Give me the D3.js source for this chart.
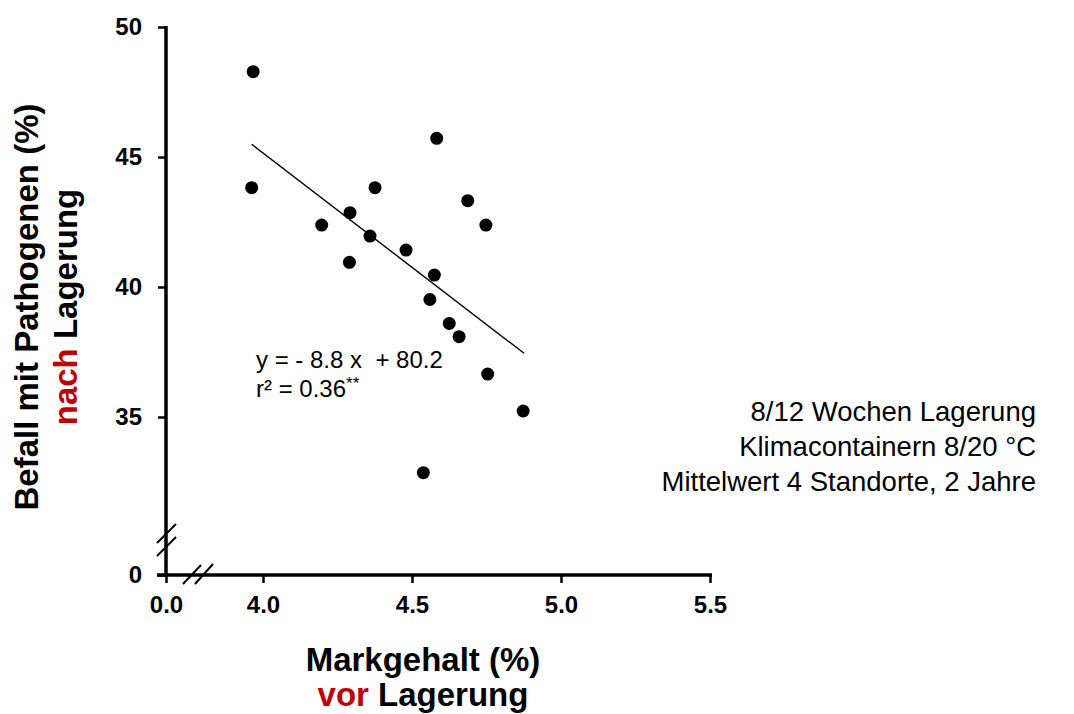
<!DOCTYPE html>
<html>
<head>
<meta charset="utf-8">
<script src="https://cdn.jsdelivr.net/npm/d3@7"></script>
<style>
  body { margin: 0; background: #fff; }
  svg { display: block; font-family: "Liberation Sans", Arial, sans-serif; }
</style>
</head>
<body>
<svg id="chart" width="1074" height="714"></svg>
<script>
'use strict';

// Markgehalt vor Lagerung (%) / Befall nach Lagerung (%)
var markgehalt = [3.967, 3.962, 4.583, 4.376, 4.687, 4.748, 4.197, 4.292, 4.359,
  4.290, 4.480, 4.575, 4.560, 4.625, 4.658, 4.754, 4.873, 4.538];
var befall = [48.28, 43.82, 45.72, 43.82, 43.32, 42.38, 42.38, 42.86, 41.96,
  40.95, 41.42, 40.46, 39.52, 38.60, 38.09, 36.65, 35.23, 32.86];

// regression line ends as drawn
var fitX = [3.962, 4.876];
var fitY = [45.49, 37.45];

var xTicks = [4.0, 4.5, 5.0, 5.5];
var xTicksLow = [0.0];
var yTicks = [35, 40, 45, 50];
var yTicksLow = [0];

var notes = ['8/12 Wochen Lagerung', 'Klimacontainern 8/20 °C', 'Mittelwert 4 Standorte, 2 Jahre'];

var svg = d3.select('#chart');

// broken axes: upper part + the zero part
var x = d3.scaleLinear().domain([4.0, 5.5]).range([263, 710]);
var xLow = d3.scaleLinear().domain([0, 1]).range([166, 464]);
var y = d3.scaleLinear().domain([35, 50]).range([417, 27]);
var yLow = d3.scaleLinear().domain([0, 1]).range([575, 549]);

var axisG = svg.append('g').attr('class', 'axes');

function styleAxis(g) {
  g.select('.domain').remove();
  g.selectAll('.tick line').attr('stroke', '#000').attr('stroke-width', 2.5);
  g.selectAll('.tick text')
    .attr('fill', '#000')
    .attr('font-size', '24px')
    .attr('font-weight', 'bold')
    .attr('font-family', '"Liberation Sans", Arial, sans-serif');
}

axisG.append('g')
  .attr('transform', 'translate(0,575)')
  .call(d3.axisBottom(x).tickValues(xTicks).tickSize(8).tickPadding(13)
    .tickFormat(d3.format('.1f')))
  .call(styleAxis);

axisG.append('g')
  .attr('transform', 'translate(0,575)')
  .call(d3.axisBottom(xLow).tickValues(xTicksLow).tickSize(8).tickPadding(13)
    .tickFormat(d3.format('.1f')))
  .call(styleAxis);

axisG.append('g')
  .attr('transform', 'translate(166,0)')
  .call(d3.axisLeft(y).tickValues(yTicks).tickSize(8).tickPadding(16))
  .call(styleAxis);

axisG.append('g')
  .attr('transform', 'translate(166,0)')
  .call(d3.axisLeft(yLow).tickValues(yTicksLow).tickSize(8).tickPadding(16)
    .tickFormat(d3.format('d')))
  .call(styleAxis);

// axis lines
axisG.append('line')
  .attr('x1', 166).attr('x2', 166)
  .attr('y1', y(50) - 1).attr('y2', yLow(0) + 1)
  .attr('stroke', '#000').attr('stroke-width', 3.5);

axisG.append('line')
  .attr('x1', 157).attr('x2', x(5.5) + 2)
  .attr('y1', yLow(0)).attr('y2', yLow(0))
  .attr('stroke', '#000').attr('stroke-width', 3.5);

// break marks
var breaks = [
  [[157, 543], [176, 524]],
  [[157, 556], [176, 537]],
  [[183, 584], [201, 565]],
  [[195, 584], [213, 564]]
];
axisG.selectAll('line.brk')
  .data(breaks)
  .enter().append('line')
  .attr('class', 'brk')
  .attr('x1', function (d) { return d[0][0]; })
  .attr('y1', function (d) { return d[0][1]; })
  .attr('x2', function (d) { return d[1][0]; })
  .attr('y2', function (d) { return d[1][1]; })
  .attr('stroke', '#000')
  .attr('stroke-width', 2);

// regression line
svg.append('line')
  .attr('x1', x(fitX[0])).attr('y1', y(fitY[0]))
  .attr('x2', x(fitX[1])).attr('y2', y(fitY[1]))
  .attr('stroke', '#000')
  .attr('stroke-width', 1.4);

// points
svg.append('g')
  .selectAll('circle')
  .data(markgehalt.map(function (d, i) { return {x: d, y: befall[i]}; }))
  .enter().append('circle')
  .attr('cx', function (d) { return x(d.x); })
  .attr('cy', function (d) { return y(d.y); })
  .attr('r', 6.5)
  .attr('fill', '#000');

// equation
var eq = svg.append('g').attr('font-size', '24px').attr('fill', '#000');
eq.append('text')
  .attr('x', 256).attr('y', 368)
  .style('white-space', 'pre')
  .text('y = - 8.8 x  + 80.2');
var r2 = eq.append('text')
  .attr('x', 256).attr('y', 397);
r2.append('tspan').text('r² = 0.36');
r2.append('tspan').attr('font-size', '17px').attr('dy', -8).text('**');

// axis titles
var xt = svg.append('g')
  .attr('font-size', '33px')
  .attr('font-weight', 'bold')
  .attr('text-anchor', 'middle');
xt.append('text').attr('x', 423).attr('y', 671).text('Markgehalt (%)');
var xt2 = xt.append('text').attr('x', 423).attr('y', 706);
xt2.append('tspan').attr('fill', '#c00000').text('vor');
xt2.append('tspan').attr('fill', '#000').text(' Lagerung');

var yt = svg.append('g')
  .attr('font-size', '33px')
  .attr('font-weight', 'bold')
  .attr('text-anchor', 'middle')
  .attr('transform', 'translate(0,307) rotate(-90)');
yt.append('text').attr('x', 0).attr('y', 38).text('Befall mit Pathogenen (%)');
var yt2 = yt.append('text').attr('x', 0).attr('y', 77);
yt2.append('tspan').attr('fill', '#c00000').text('nach');
yt2.append('tspan').attr('fill', '#000').text(' Lagerung');

// notes on the right
svg.append('g')
  .attr('font-size', '27.5px')
  .attr('text-anchor', 'end')
  .selectAll('text')
  .data(notes)
  .enter().append('text')
  .attr('x', 1036)
  .attr('y', function (d, i) { return 421 + i * 35; })
  .text(function (d) { return d; });
</script>
</body>
</html>
